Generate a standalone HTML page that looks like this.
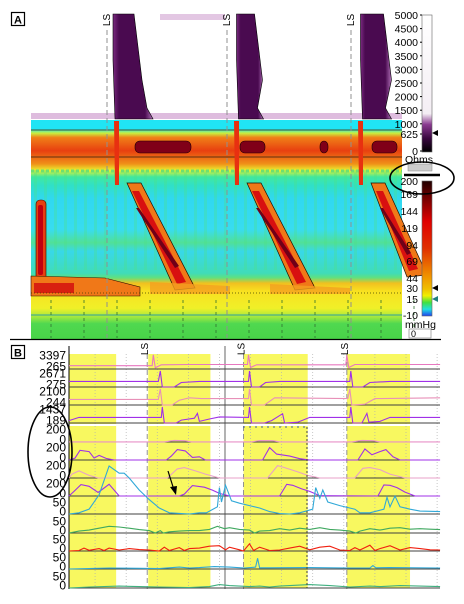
<!DOCTYPE html>
<html><head><meta charset="utf-8"><style>
html,body{margin:0;padding:0;background:#fff}
svg{display:block;font-family:"Liberation Sans",sans-serif}
</style></head><body>
<svg id="fig" width="464" height="604" viewBox="0 0 464 604" xmlns="http://www.w3.org/2000/svg">
<defs>
<linearGradient id="hmBg" x1="0" y1="0" x2="0" y2="1">
<stop offset="0" stop-color="#20e4f4"/><stop offset="0.04" stop-color="#20e4f4"/>
<stop offset="0.06" stop-color="#c8f040"/><stop offset="0.08" stop-color="#f08018"/>
<stop offset="0.14" stop-color="#e84010"/><stop offset="0.2" stop-color="#f09018"/>
<stop offset="0.23" stop-color="#e8f030"/><stop offset="0.26" stop-color="#40e8a0"/>
<stop offset="0.3" stop-color="#30e0c8"/><stop offset="0.36" stop-color="#30d8f0"/>
<stop offset="0.5" stop-color="#38dcf0"/><stop offset="0.56" stop-color="#50e098"/>
<stop offset="0.6" stop-color="#38d8e8"/><stop offset="0.7" stop-color="#40dcb8"/>
<stop offset="0.72" stop-color="#60e080"/>
<stop offset="0.745" stop-color="#f0c020"/><stop offset="0.78" stop-color="#f8e020"/>
<stop offset="0.86" stop-color="#f0f028"/>
<stop offset="0.9" stop-color="#a0e840"/><stop offset="0.93" stop-color="#50d850"/>
<stop offset="1" stop-color="#48d448"/>
</linearGradient>
<linearGradient id="impBar" x1="0" y1="0" x2="0" y2="1">
<stop offset="0" stop-color="#fff"/><stop offset="0.72" stop-color="#f4eef4"/>
<stop offset="0.8" stop-color="#8a3a90"/><stop offset="0.9" stop-color="#3a0840"/><stop offset="1" stop-color="#000"/>
</linearGradient>
<linearGradient id="presBar" x1="0" y1="0" x2="0" y2="1">
<stop offset="0" stop-color="#200000"/><stop offset="0.12" stop-color="#700000"/>
<stop offset="0.3" stop-color="#e00000"/><stop offset="0.5" stop-color="#e03000"/>
<stop offset="0.7" stop-color="#f09000"/><stop offset="0.8" stop-color="#f0c000"/>
<stop offset="0.85" stop-color="#f0f000"/><stop offset="0.9" stop-color="#40e040"/>
<stop offset="0.95" stop-color="#20e0e0"/><stop offset="1" stop-color="#2040f0"/>
</linearGradient>
<linearGradient id="impWedge" x1="0" y1="0" x2="1" y2="0">
<stop offset="0" stop-color="#7a2a80"/><stop offset="0.15" stop-color="#4a0a50"/>
<stop offset="0.8" stop-color="#4a0a50"/><stop offset="1" stop-color="#b070b8"/>
</linearGradient>
</defs>
<g id="panelA"></g>
<g id="panelB"></g>
</svg>
<script>
// ---- data ----
var swallowA = [107, 227, 351];
var lsTimesB = [7.8, 17.4, 27.7];
var impTicks = ["5000","4500","4000","3500","3000","2500","2000","1500","1000","625","0"];
var impTickVals = [5000,4500,4000,3500,3000,2500,2000,1500,1000,625,0];
var presTicks = ["200","169","144","119","94","69","44","30","15","-10"];
var presTickVals = [200,169,144,119,94,69,44,30,15,-10];
var yellowStart = [0, 7.9, 17.4, 27.7];
var yellowEnd = [4.7, 14.1, 23.8, 34.0];
var rowLabelsB = [["3397","265"],["2671","275"],["2100","244"],["1437","189"],["200","0"],["200","0"],["200","0"],["200","0"],["50","0"],["50","0"],["50","0"],["50","0"],["50","0"]];
var rowColors = ["#e878c0","#a030e8","#e890b8","#a030e8","#e890c8","#a030e8","#e8a0c8","#a030e8","#30a8d8","#40a860","#f02010","#30a8d8","#40b080"];
var rowMax = [100,100,100,100,200,200,200,200,50,50,50,50,50];
var r0 = [[0,22],[8.3,22],[8.4,95],[8.6,8],[9.2,28],[12,30],[17.8,30],[17.9,95],[18.1,10],[18.7,28],[27.6,28],[27.7,92],[27.9,10],[28.5,30],[37,30]];
var r1 = [[0,35],[8.9,35],[9.1,100],[9.3,0],[10.5,0],[11.2,28],[13,35],[17.9,35],[18,100],[18.2,0],[19,0],[19.6,28],[21,35],[28,35],[28.1,100],[28.3,0],[29.3,0],[30,28],[32,35],[37,35]];
var r2 = [[0,35],[8.9,35],[9.1,100],[9.3,0],[10.3,0],[11,30],[12,45],[13.2,40],[17.9,40],[18,100],[18.2,0],[19.5,0],[20.5,45],[27.8,40],[28,100],[28.2,0],[29.5,5],[30.5,40],[37,45]];
var r3 = [[0,15],[1,35],[9.2,35],[9.3,100],[9.5,0],[10.7,0],[11.2,18],[12.5,30],[12.8,60],[13,10],[14,25],[15,38],[17.9,35],[18,100],[18.2,0],[19.5,0],[20.2,15],[21.3,58],[21.5,0],[22.8,5],[24,35],[28,35],[28.1,100],[28.3,0],[29.2,0],[29.7,60],[29.9,5],[31,10],[32,35],[37,35]];
var r4 = [[0,2],[9.5,2],[10.5,25],[11.5,20],[12.2,2],[18.2,2],[19,22],[20.3,20],[21,2],[28.2,2],[29.2,25],[30.3,20],[31,2],[37,2]];
var r5 = [[0,0],[0.6,30],[1.1,150],[2,130],[2.5,30],[3,70],[3.7,25],[4.5,0],[9.7,0],[10.2,60],[10.8,160],[11.6,140],[12.3,40],[13,50],[13.6,0],[19.3,0],[20,190],[20.7,90],[22,60],[23,20],[24,0],[28.8,0],[29.5,170],[30.2,80],[31,130],[31.6,160],[32.3,50],[33,0],[37,0]];
var r6 = [[0,0],[0.3,60],[1,110],[2,40],[2.9,0],[9.8,0],[10.8,140],[11.5,160],[12.6,110],[13.6,60],[15,0],[19.8,0],[20.8,190],[21.5,160],[22.7,100],[23.8,40],[25,0],[28.5,0],[29.3,150],[30,160],[31,130],[32,60],[33.5,0],[37,0]];
var r7 = [[0,0],[0.5,70],[1.2,175],[2,150],[2.9,55],[3.3,100],[4,180],[5,0],[11,0],[11.5,30],[12.3,160],[13.5,135],[14.3,90],[15,40],[16,0],[21,0],[21.7,180],[22.3,165],[23.2,110],[24,70],[25,5],[30.8,0],[31.4,170],[32,165],[32.7,130],[33.5,60],[34.5,0],[37,0]];
var r8 = [[0,0],[1,5],[2,20],[3,80],[4,200],[5,170],[5.5,170],[6,150],[7,100],[8,60],[9,25],[10,5],[12,0],[13,5],[13.7,5],[14.8,30],[15,110],[15.2,50],[15.6,120],[16.2,55],[17,45],[18,35],[19,25],[20,10],[21,2],[22,0],[23,5],[24.3,20],[24.6,110],[25,65],[25.3,100],[25.8,50],[27,35],[28.5,20],[29,5],[30,5],[31.4,20],[31.7,70],[32,30],[32.5,75],[33,30],[34,20],[35,12],[37,10]];
var r9 = [[0,0],[1,8],[2,12],[3,20],[4,28],[5,25],[6,20],[7,14],[8,10],[8.6,0],[9.1,10],[9.4,0],[10,5],[11,8],[12,10],[13,10],[14,15],[14.8,28],[15.5,18],[16,22],[17,15],[18,12],[18.5,0],[19,8],[20,10],[21,18],[22,12],[23,20],[24,15],[25,22],[26,15],[27,12],[28,8],[28.6,0],[29,8],[30,18],[31,12],[32,20],[33,22],[34,16],[35,18],[36,16],[37,14]];
var r10 = [[0,0],[1,2],[1.5,12],[2,3],[3,10],[3.5,2],[4,12],[5,4],[6,10],[7,6],[8,4],[9,0],[9.5,16],[10,2],[11,14],[11.5,2],[12,10],[13,12],[14,20],[15,22],[15.6,5],[16,16],[17,5],[17.4,0],[18,30],[18.4,2],[19,16],[20,2],[21,4],[22,12],[23,20],[24,5],[25,16],[26,20],[27,4],[28,2],[28.5,14],[29,4],[30,24],[30.5,2],[31,10],[32,22],[33,4],[34,14],[35,10],[36,5],[37,4]];
var r11 = [[0,0],[4,4],[7,3],[9,2],[10,5],[11,8],[12,4],[13,6],[14.5,10],[16,8],[17.5,4],[18.6,8],[18.8,45],[19,5],[20,5],[24,6],[28,4],[30,4],[30.3,14],[30.6,5],[32,6],[37,4]];
var r12 = [[0,0],[2,4],[5,8],[7,6],[9,4],[12,2],[14,6],[15,14],[16,10],[17,8],[18,6],[19,8],[20,4],[21,8],[22,10],[24,14],[26,10],[28,4],[30,8],[31,6],[33,10],[35,8],[37,6]];
var rowSeries = [r0,r1,r2,r3,r4,r5,r6,r7,r8,r9,r10,r11,r12];

// ---- helpers ----
var NS = "http://www.w3.org/2000/svg";
function mk(parent, tag, attrs) {
  var e = document.createElementNS(NS, tag);
  for (var k in attrs) e.setAttribute(k, attrs[k]);
  parent.appendChild(e);
  return e;
}
function txt(parent, x, y, s, size, anchor) {
  var t = mk(parent, "text", {x: x, y: y, "font-size": size, "text-anchor": anchor || "start", fill: "#000"});
  t.textContent = s;
  return t;
}
function axisAx(t) { return 31 + t * 10; }
function axisBx(t) { return 69 + t * 10.03; }
function impBarY(v) { return 151 - v / 5000 * 136; }
function presBarY(v) {
  var i; for (i = 0; i < presTickVals.length - 1; i++) { if (v <= presTickVals[i] && v >= presTickVals[i+1]) break; }
  var ys = [181,194,211,228,245,261,278,288,299,315];
  var f = (presTickVals[i] - v) / (presTickVals[i] - presTickVals[i+1]);
  return ys[i] + f * (ys[i+1] - ys[i]);
}
var rowBase = [369,387,405,423,442,460,478,496,514,533,551,569,588];
var rowH = [15,16,16,16,13,13,13,13,12,12,12,12,12];
function rowY(r, v) { return rowBase[r] - v / rowMax[r] * rowH[r]; }

var A = document.getElementById("panelA");
var B = document.getElementById("panelB");

// ---- Panel A ----
var lab = mk(A, "g", {});


mk(lab, "rect", {x: 11.5, y: 12.5, width: 13, height: 13, fill: "#fff", stroke: "#000", "stroke-width": 1.2});
txt(lab, 18, 23.5, "A", 11, "middle").setAttribute("font-weight", "bold");

var imp = mk(A, "g", {});


mk(imp, "rect", {x: 31, y: 14, width: 371, height: 105, fill: "#fff"});
mk(imp, "rect", {x: 31, y: 113, width: 371, height: 6, fill: "#c890c8", opacity: 0.6});
mk(imp, "rect", {x: 160, y: 14, width: 65, height: 6, fill: "#c890c8", opacity: 0.5});
var wedgeW = [[9, 17, 11, 40], [12.5, 14, 12, 27], [12.5, 19, 13, 31]];
for (var s = 0; s < swallowA.length; s++) {
  var x0 = swallowA[s] + wedgeW[s][0] - 3;
  var w = mk(imp, "polygon", {points: [x0, 14, x0 + wedgeW[s][1] + 4, 14, x0 + wedgeW[s][1] + 12, 80, x0 + wedgeW[s][3] - 6, 108, x0 + wedgeW[s][3], 119, x0 + 2, 119, x0, 60].join(" "), fill: "url(#impWedge)", stroke: "#000", "stroke-width": 0.6});
  
  
}

var hm = mk(A, "g", {});


mk(hm, "rect", {x: 31, y: 120, width: 371, height: 219, fill: "url(#hmBg)"});
for (var i = 0; i < 37; i++) {
  mk(hm, "rect", {x: axisAx(i) + 3, y: 170, width: 3, height: 100, fill: "#50e080", opacity: 0.3});
}
mk(hm, "line", {x1: 31, y1: 171, x2: 402, y2: 171, stroke: "#70e070", "stroke-width": 3, "stroke-dasharray": "3 2"});
mk(hm, "line", {x1: 31, y1: 130, x2: 402, y2: 130, stroke: "#302010", "stroke-width": 0.8});
mk(hm, "line", {x1: 31, y1: 157, x2: 402, y2: 157, stroke: "#302010", "stroke-width": 0.8});
var blobs = [[135,56],[240,25],[320,8],[372,25]];
for (var b = 0; b < blobs.length; b++) {
  mk(hm, "rect", {x: blobs[b][0], y: 141, width: blobs[b][1], height: 12, rx: 5, fill: "#800018", stroke: "#200", "stroke-width": 0.6});
}
for (var s = 0; s < swallowA.length; s++) {
  var lx = swallowA[s];
  mk(hm, "polygon", {points: [lx + 7, 121, lx + 12, 121, lx + 12, 185, lx + 8, 185].join(" "), fill: "#e83010"});
  var x1 = lx + 22, y1 = 183, dx = s === 2 ? 30 : 42, y2 = s === 2 ? 275 : 288;
  mk(hm, "polygon", {points: [x1 - 2, y1, x1 + 12, y1, x1 + dx + 24, y2, x1 + dx + 4, y2 + 2].join(" "), fill: "#f07818", stroke: "#201000", "stroke-width": 0.7});
  mk(hm, "polygon", {points: [x1 + 3, y1 + 8, x1 + 10, y1 + 8, x1 + dx + 15, y2 - 6, x1 + dx + 6, y2 - 4].join(" "), fill: "#d81010"});
  mk(hm, "polygon", {points: [x1 + 7, y1 + 25, x1 + 10, y1 + 25, x1 + dx + 8, y2 - 22, x1 + dx + 4, y2 - 20].join(" "), fill: "#700018"});
}
mk(hm, "rect", {x: 36, y: 200, width: 10, height: 85, rx: 4, fill: "#e84010", stroke: "#301000", "stroke-width": 0.6});
mk(hm, "rect", {x: 38, y: 205, width: 5, height: 70, rx: 2, fill: "#c00010"});
mk(hm, "polygon", {points: "31,276 105,278 140,287 140,296 31,296", fill: "#f07818", stroke: "#301000", "stroke-width": 0.6});
mk(hm, "rect", {x: 34, y: 283, width: 40, height: 10, fill: "#d82010"});
mk(hm, "polygon", {points: "150,282 230,286 230,294 150,294", fill: "#f4a020", opacity: 0.8});
mk(hm, "polygon", {points: "270,284 350,288 350,294 270,294", fill: "#f4a020", opacity: 0.8});
mk(hm, "line", {x1: 31, y1: 293, x2: 402, y2: 293, stroke: "#404000", "stroke-width": 0.8, "stroke-dasharray": "1 2"});
mk(hm, "line", {x1: 31, y1: 315, x2: 402, y2: 315, stroke: "#30a0a0", "stroke-width": 1});
for (var i = 0; i < 12; i++) {
  mk(hm, "line", {x1: axisAx(i * 3.3 + 2), y1: 300, x2: axisAx(i * 3.3 + 2), y2: 338, stroke: "#307030", "stroke-width": 0.8, "stroke-dasharray": "3 3"});
}
for (var s = 0; s < swallowA.length; s++) {
  var l = mk(A, "line", {x1: swallowA[s], y1: 30, x2: swallowA[s], y2: 338, stroke: "#909090", "stroke-width": 1, "stroke-dasharray": "5 3"});
  
  
  var t = txt(A, 0, 0, "LS", 10, "middle");
  t.setAttribute("transform", "translate(" + (swallowA[s] + 3) + ",20) rotate(-90)");
}
mk(A, "line", {x1: 10, y1: 339.5, x2: 441, y2: 339.5, stroke: "#000", "stroke-width": 1.2});

var cb1 = mk(A, "g", {});


mk(cb1, "rect", {x: 422, y: 15, width: 10, height: 137, fill: "url(#impBar)", stroke: "#666", "stroke-width": 0.6});
for (var i = 0; i < impTicks.length; i++) {
  txt(cb1, 418, impBarY(impTickVals[i]) + 4, impTicks[i], 10.5, "end");
  mk(cb1, "line", {x1: 420, y1: impBarY(impTickVals[i]), x2: 422, y2: impBarY(impTickVals[i]), stroke: "#000"});
}
mk(cb1, "polygon", {points: "432,133 438,130 438,136", fill: "#000"});
txt(cb1, 405, 163, "Ohms", 10.5, "start");
mk(cb1, "rect", {x: 408, y: 164, width: 24, height: 7, fill: "#ccc", stroke: "#888", "stroke-width": 0.5});
mk(cb1, "line", {x1: 404, y1: 175, x2: 440, y2: 175, stroke: "#000", "stroke-width": 2.5});

var cb2 = mk(A, "g", {});


mk(cb2, "rect", {x: 422, y: 181, width: 10, height: 135, fill: "url(#presBar)", stroke: "#666", "stroke-width": 0.6});
for (var i = 0; i < presTicks.length; i++) {
  txt(cb2, 418, presBarY(presTickVals[i]) + 4, presTicks[i], 10.5, "end");
}
mk(cb2, "polygon", {points: "432,288 438,285 438,291", fill: "#000"});
mk(cb2, "polygon", {points: "432,299 438,296 438,302", fill: "#208080"});
txt(cb2, 405, 328, "mmHg", 10.5, "start");
var inp = mk(cb2, "rect", {x: 409, y: 329, width: 22, height: 9, fill: "#fff", stroke: "#888", "stroke-width": 0.7});


txt(cb2, 411, 337, "0", 9, "start");
var el1 = mk(A, "ellipse", {cx: 422, cy: 178, rx: 32, ry: 16, fill: "none", stroke: "#000", "stroke-width": 1.6});



// ---- Panel B ----
var labB = mk(B, "g", {});


mk(labB, "rect", {x: 11.5, y: 345.5, width: 13, height: 13, fill: "#fff", stroke: "#000", "stroke-width": 1.2});
txt(labB, 18, 356.5, "B", 11, "middle").setAttribute("font-weight", "bold");

for (var i = 0; i < yellowStart.length; i++) {
  var yb = mk(B, "rect", {x: axisBx(yellowStart[i]), y: 354, width: axisBx(yellowEnd[i]) - axisBx(yellowStart[i]), height: 234, fill: "#f8f860"});
  
  
}
mk(B, "rect", {x: 69, y: 424, width: 371, height: 2, fill: "#fff"});
for (var i = 0; i < 12; i++) {
  mk(B, "line", {x1: axisBx(i * 3.1 + 2.6), y1: 354, x2: axisBx(i * 3.1 + 2.6), y2: 588, stroke: "#b0b0b0", "stroke-width": 0.7, "stroke-dasharray": "1 2"});
}
mk(B, "line", {x1: 69, y1: 346, x2: 69, y2: 589, stroke: "#000", "stroke-width": 1});
mk(B, "line", {x1: 225, y1: 346, x2: 225, y2: 589, stroke: "#808080", "stroke-width": 1.2});
for (var s = 0; s < lsTimesB.length; s++) {
  var xx = axisBx(lsTimesB[s]);
  var l2 = mk(B, "line", {x1: xx, y1: 354, x2: xx, y2: 589, stroke: "#909090", "stroke-width": 1, "stroke-dasharray": "5 3"});
  
  
  var t2 = txt(B, 0, 0, "LS", 10, "middle");
  t2.setAttribute("transform", "translate(" + (xx + 1) + ",349) rotate(-90)");
}
for (var r = 0; r < rowSeries.length; r++) {
  var gl = mk(B, "line", {x1: 69, y1: rowBase[r], x2: 440, y2: rowBase[r], stroke: "#404040", "stroke-width": 1});
  
  
  var lbY = rowBase[r];
  var topOff = r < 4 ? 14 : (r < 8 ? 13 : 12);
  txt(B, 66, lbY - topOff + 4.5, rowLabelsB[r][0], 12, "end");
  txt(B, 66, lbY + 1.5, rowLabelsB[r][1], 12, "end");
  var pts = rowSeries[r].map(function (p) { return axisBx(p[0]).toFixed(1) + "," + rowY(r, p[1]).toFixed(1); }).join(" ");
  var pl = mk(B, "polyline", {points: pts, fill: "none", stroke: rowColors[r], "stroke-width": 1.1});
  
  
}
mk(B, "line", {x1: 243, y1: 427, x2: 307, y2: 427, stroke: "#4060a0", "stroke-width": 1, "stroke-dasharray": "2 4"});
mk(B, "line", {x1: 307, y1: 427, x2: 307, y2: 588, stroke: "#404040", "stroke-width": 1, "stroke-dasharray": "2 2"});
var ar = mk(B, "g", {});


mk(ar, "line", {x1: 168, y1: 471, x2: 174, y2: 490, stroke: "#000", "stroke-width": 1.2});
mk(ar, "polygon", {points: "176,495 170,487 177,486", fill: "#000"});
var el2 = mk(B, "ellipse", {cx: 50, cy: 452, rx: 22, ry: 45, fill: "none", stroke: "#000", "stroke-width": 1.6});


</script>
</body></html>
